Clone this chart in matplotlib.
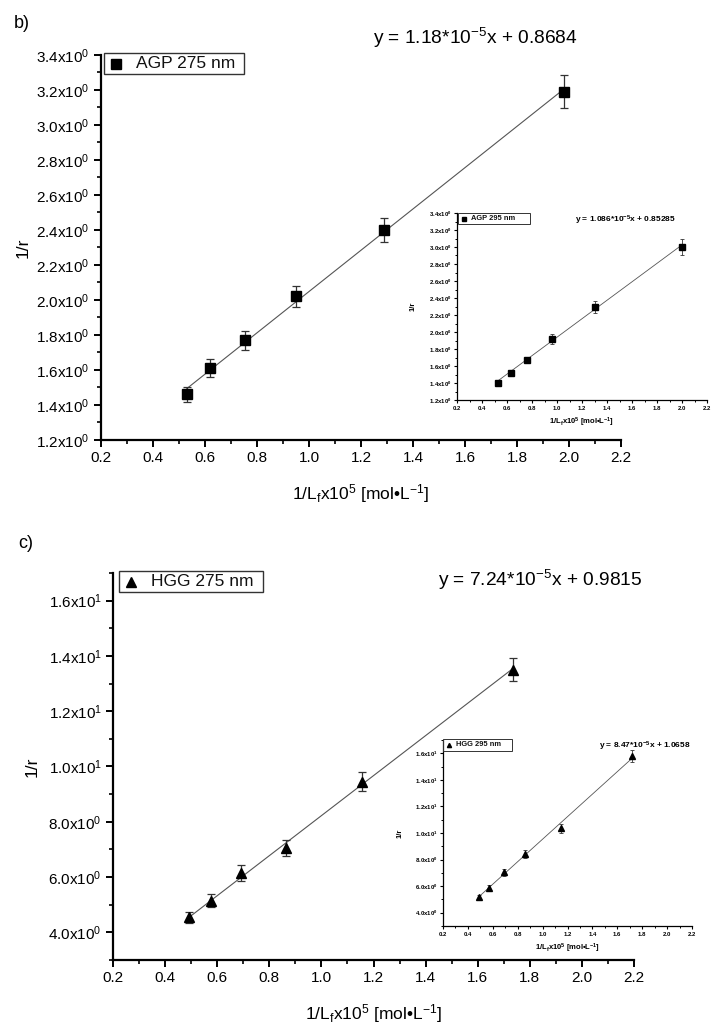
import numpy as np
import matplotlib
matplotlib.use("Agg")
import matplotlib.pyplot as plt
from matplotlib.ticker import MultipleLocator, FuncFormatter

plt.rcParams['font.family'] = ['Liberation Sans', 'DejaVu Sans']
plt.rcParams['mathtext.fontset'] = 'custom'
plt.rcParams['mathtext.rm'] = 'Liberation Sans'
plt.rcParams['mathtext.it'] = 'Liberation Sans:italic'
plt.rcParams['mathtext.bf'] = 'Liberation Sans:bold'

# ---------------- data ----------------
# panel b, main (AGP 275 nm)
b_x = [0.53, 0.62, 0.755, 0.95, 1.29, 1.98]
b_y = [1.46, 1.61, 1.77, 2.02, 2.40, 3.19]
b_err = [0.045, 0.05, 0.055, 0.06, 0.07, 0.095]
b_slope, b_icpt = 1.18, 0.8684
b_label = "AGP 275 nm"
b_eq = r"y = 1.18*10$^{\mathregular{-5}}$x + 0.8684"

# panel b, inset (AGP 295 nm)
bi_x = [0.53, 0.63, 0.76, 0.96, 1.30, 2.00]
bi_y = [1.40, 1.52, 1.67, 1.92, 2.29, 3.00]
bi_err = [0.03, 0.035, 0.04, 0.06, 0.07, 0.09]
bi_slope, bi_icpt = 1.086, 0.85285
bi_label = "AGP 295 nm"
bi_eq = r"y = 1.086*10$^{\mathregular{-5}}$x + 0.85285"

# panel c, main (HGG 275 nm)
c_x = [0.49, 0.575, 0.69, 0.865, 1.155, 1.735]
c_y = [4.55, 5.15, 6.15, 7.05, 9.45, 13.5]
c_err = [0.2, 0.25, 0.28, 0.3, 0.35, 0.42]
c_slope, c_icpt = 7.24, 0.9815
c_label = "HGG 275 nm"
c_eq = r"y = 7.24*10$^{\mathregular{-5}}$x + 0.9815"

# panel c, inset (HGG 295 nm)
ci_x = [0.49, 0.57, 0.69, 0.86, 1.15, 1.72]
ci_y = [5.2, 5.85, 7.05, 8.45, 10.35, 15.8]
ci_err = [0.15, 0.2, 0.25, 0.3, 0.35, 0.45]
ci_slope, ci_icpt = 8.47, 1.0658
ci_label = "HGG 295 nm"
ci_eq = r"y = 8.47*10$^{\mathregular{-5}}$x + 1.0658"

xlabel = "1/L$_{\\mathregular{f}}$x10$^{\\mathregular{5}}$ [mol\u2022L$^{\\mathregular{-1}}$]"
ylabel = "1/r"

W, H = 723, 1034
fig = plt.figure(figsize=(W / 100, H / 100), dpi=100)


def sci_fmt(v, pos):
    if v <= 0:
        return ""
    e = int(np.floor(np.log10(v) + 1e-9))
    m = v / 10 ** e
    return "%.1fx10$^{\\mathregular{%d}}$" % (m, e)


def rect(l, t, r, b):
    return [l / W, 1 - b / H, (r - l) / W, (b - t) / H]


def panel(r, xs, ys, errs, slope, icpt, label, eq, marker, ylim, ymaj, ymin,
          inset=False, eq_xy=None, leg_xy=None, ylab_x=None, xlab_pad=None):
    ax = fig.add_axes(r)
    ax.set_xlim(0.2, 2.2)
    ax.set_ylim(*ylim)
    for s in ['top', 'right']:
        ax.spines[s].set_visible(False)
    lw = 0.9 if inset else 1.6
    for s in ['left', 'bottom']:
        ax.spines[s].set_linewidth(lw)
    ax.xaxis.set_major_locator(MultipleLocator(0.2))
    ax.xaxis.set_minor_locator(MultipleLocator(0.1))
    ax.yaxis.set_major_locator(MultipleLocator(ymaj))
    ax.yaxis.set_minor_locator(MultipleLocator(ymin))
    ax.yaxis.set_major_formatter(FuncFormatter(sci_fmt))
    ax.xaxis.set_major_formatter(FuncFormatter(lambda v, p: "%.1f" % v))
    if inset:
        ax.tick_params(which='major', direction='out', length=2.5, width=0.8,
                       labelsize=4.3, pad=1.5)
        ax.tick_params(which='minor', direction='out', length=1.3, width=0.7)
        for t in ax.get_xticklabels() + ax.get_yticklabels():
            t.set_fontweight('bold')
    else:
        ax.tick_params(which='major', direction='out', length=5, width=1.4,
                       labelsize=11, pad=3)
        ax.tick_params(which='minor', direction='out', length=3, width=1.2)

    ms = 4 if inset else 7.5
    ew = 0.6 if inset else 0.9
    cs = 1.5 if inset else 3
    ax.errorbar(xs, ys, yerr=errs, fmt='none', ecolor='#333333', elinewidth=ew,
                capsize=cs, capthick=ew, zorder=2)
    ax.plot(xs, ys, linestyle='none', marker=marker, color='black',
            markersize=ms, zorder=3)
    xf = np.array([xs[0], xs[-1]])
    ax.plot(xf, slope * xf + icpt, color='#555555', lw=0.6 if inset else 0.8,
            zorder=1)

    fs_lab = 5.5 if inset else 12.5
    ax.set_xlabel(xlabel, fontsize=fs_lab, fontweight='bold' if inset else 'normal',
                  labelpad=xlab_pad)
    ax.set_ylabel(ylabel, fontsize=fs_lab, fontweight='bold' if inset else 'normal')
    if ylab_x is not None:
        ax.yaxis.set_label_coords(ylab_x, 0.5)

    # legend box
    lx0, ly0, lx1, ly1 = leg_xy
    fig.patches.append(plt.Rectangle((lx0 / W, 1 - ly1 / H), (lx1 - lx0) / W,
                                     (ly1 - ly0) / H, transform=fig.transFigure,
                                     fill=False, edgecolor='#333333',
                                     lw=0.7 if inset else 1.0))
    lm = 6 if inset else 12
    fig.lines.append(plt.Line2D([(lx0 + lm) / W], [1 - (ly0 + ly1) / 2 / H],
                                transform=fig.transFigure, marker=marker,
                                color='black', markersize=3 if inset else 7,
                                linestyle='none'))
    fig.text((lx0 + (2.2 * lm if inset else 2.7 * lm)) / W, 1 - (ly0 + ly1) / 2 / H,
             label, fontsize=5.4 if inset else 12.5, va='center', ha='left',
             fontweight='bold' if inset else 'normal', color='#111111')
    fig.text(eq_xy[0] / W, 1 - eq_xy[1] / H, eq, fontsize=6 if inset else 13.8,
             ha='center', va='center', fontweight='bold' if inset else 'normal')
    return ax


# panel b
panel(rect(101, 55, 621, 440), b_x, b_y, b_err, b_slope, b_icpt, b_label, b_eq, 's',
      (1.2, 3.4), 0.2, 0.1, eq_xy=(475, 38), leg_xy=(104, 53, 244, 74),
      ylab_x=-0.135, xlab_pad=12)
panel(rect(457, 213, 707, 400), bi_x, bi_y, bi_err, bi_slope, bi_icpt, bi_label, bi_eq,
      's', (1.2, 3.4), 0.2, 0.1, inset=True, eq_xy=(625, 220),
      leg_xy=(458, 213, 530, 224), ylab_x=-0.16, xlab_pad=4)

# panel c
panel(rect(113, 573, 634, 960), c_x, c_y, c_err, c_slope, c_icpt, c_label, c_eq, '^',
      (3, 17), 2, 1, eq_xy=(540, 580), leg_xy=(119, 571, 263, 592),
      ylab_x=-0.14, xlab_pad=12)
panel(rect(443, 740, 692, 926), ci_x, ci_y, ci_err, ci_slope, ci_icpt, ci_label, ci_eq,
      '^', (3, 17), 2, 1, inset=True, eq_xy=(645, 746),
      leg_xy=(443, 739, 512, 751), ylab_x=-0.16, xlab_pad=4)

fig.text(14 / W, 1 - 24 / H, "b)", fontsize=13, va='center', ha='left')
fig.text(18 / W, 1 - 543 / H, "c)", fontsize=13, va='center', ha='left')

fig.savefig("out.png", dpi=100, facecolor='white')
